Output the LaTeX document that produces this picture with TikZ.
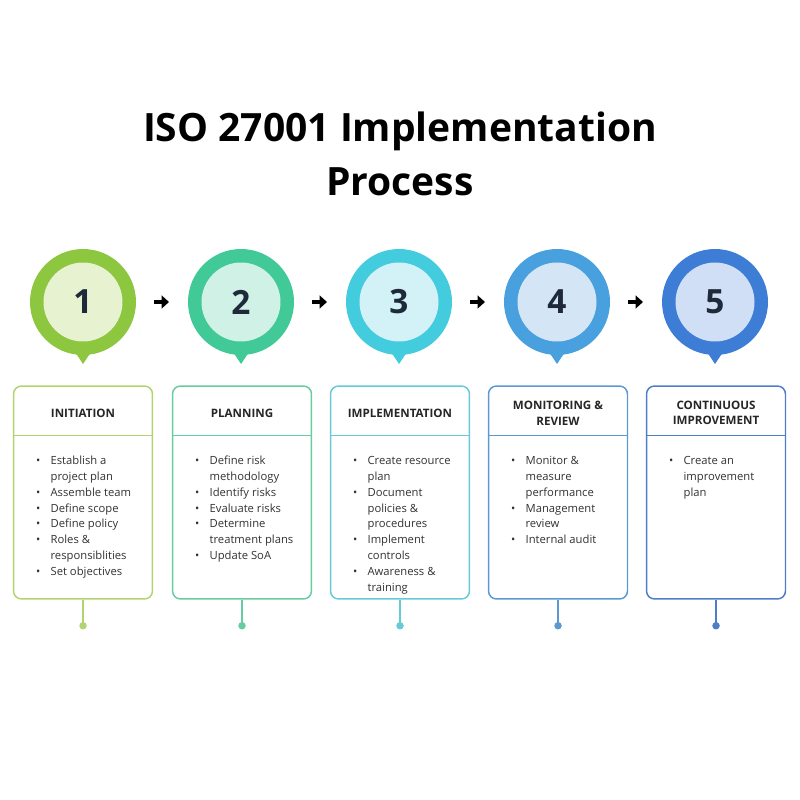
\documentclass[tikz,border=0pt]{standalone}
\usepackage{fontspec}
\setmainfont{Open Sans}
\usepackage{tikz}
\usetikzlibrary{calc}
\usetikzlibrary{arrows.meta}
\usetikzlibrary{positioning}
\definecolor{ringA}{RGB}{141, 198, 63}
\definecolor{ringB}{RGB}{66, 201, 152}
\definecolor{ringC}{RGB}{67, 203, 222}
\definecolor{ringD}{RGB}{73, 160, 222}
\definecolor{ringE}{RGB}{62, 125, 214}
\definecolor{coreA}{RGB}{230, 242, 208}
\definecolor{coreB}{RGB}{208, 242, 230}
\definecolor{coreC}{RGB}{210, 242, 248}
\definecolor{coreD}{RGB}{212, 230, 246}
\definecolor{coreE}{RGB}{208, 223, 245}
\definecolor{edgeA}{RGB}{178, 212, 112}
\definecolor{edgeB}{RGB}{104, 204, 163}
\definecolor{edgeC}{RGB}{104, 202, 216}
\definecolor{edgeD}{RGB}{92, 152, 210}
\definecolor{edgeE}{RGB}{78, 126, 200}
\definecolor{numink}{RGB}{30, 42, 58}
\definecolor{listink}{RGB}{50, 50, 50}
\newcommand{\bul}{\makebox[0.29cm][l]{\textbullet}}
\tikzset{
  ring/.style={circle, fill=#1, minimum size=2.12cm, inner sep=0pt},
  core/.style={circle, fill=#1, minimum size=1.58cm, inner sep=0pt,
               font=\fontsize{19}{19}\selectfont\bfseries, text=numink},
  stepbox/.style={draw=#1, line width=0.85pt, rounded corners=0.16cm,
                  minimum width=2.78cm, minimum height=4.26cm, inner sep=0pt},
  headtext/.style={align=center, font=\fontsize{6.6}{8.6}\selectfont\bfseries, text=black!85},
  listtext/.style={anchor=north west, inner sep=0pt, text=listink,
                   font=\fontsize{6.4}{9}\selectfont},
  stem/.style={draw=#1, line width=0.85pt},
  pindot/.style={circle, fill=#1, minimum size=0.15cm, inner sep=0pt},
  goarrow/.style={line width=2.2pt, -{Triangle[length=0.15cm, width=0.26cm]}}
}
\begin{document}
\begin{tikzpicture}[x=0.02cm, y=-0.02cm]
    \useasboundingbox (0,0) rectangle (800,800);
    % Title
    \node[align=center, font=\fontsize{22.2}{30.7}\selectfont\bfseries] (title) at (400,154)
         {ISO 27001 Implementation\\Process};
    % Markers
    \node[ring=ringA] (c1) at ( 83,302) {};
    \node[ring=ringB] (c2) at (241,302) {};
    \node[ring=ringC] (c3) at (399,302) {};
    \node[ring=ringD] (c4) at (557,302) {};
    \node[ring=ringE] (c5) at (715,302) {};
    \fill[ringA] ($(c1)+(-12,44)$) -- ($(c1)+(12,44)$) -- ($(c1)+(0,62)$) -- cycle;
    \fill[ringB] ($(c2)+(-12,44)$) -- ($(c2)+(12,44)$) -- ($(c2)+(0,62)$) -- cycle;
    \fill[ringC] ($(c3)+(-12,44)$) -- ($(c3)+(12,44)$) -- ($(c3)+(0,62)$) -- cycle;
    \fill[ringD] ($(c4)+(-12,44)$) -- ($(c4)+(12,44)$) -- ($(c4)+(0,62)$) -- cycle;
    \fill[ringE] ($(c5)+(-12,44)$) -- ($(c5)+(12,44)$) -- ($(c5)+(0,62)$) -- cycle;
    \node[core=coreA] (n1) at (c1) {1};
    \node[core=coreB] (n2) at (c2) {2};
    \node[core=coreC] (n3) at (c3) {3};
    \node[core=coreD] (n4) at (c4) {4};
    \node[core=coreE] (n5) at (c5) {5};
    % Arrows between markers
    \draw[goarrow] ($(c1)!0.5!(c2)+(-8,0)$) -- ($(c1)!0.5!(c2)+(7,0)$);
    \draw[goarrow] ($(c2)!0.5!(c3)+(-8,0)$) -- ($(c2)!0.5!(c3)+(7,0)$);
    \draw[goarrow] ($(c3)!0.5!(c4)+(-8,0)$) -- ($(c3)!0.5!(c4)+(7,0)$);
    \draw[goarrow] ($(c4)!0.5!(c5)+(-8,0)$) -- ($(c4)!0.5!(c5)+(7,0)$);
    % Boxes
    \node[stepbox=edgeA] (b1) at ( 83,492.5) {};
    \node[stepbox=edgeB] (b2) at (242,492.5) {};
    \node[stepbox=edgeC] (b3) at (400,492.5) {};
    \node[stepbox=edgeD] (b4) at (558,492.5) {};
    \node[stepbox=edgeE] (b5) at (716,492.5) {};
    \draw[edgeA, line width=0.85pt] ($(b1.north west)+(0,50)$) -- ($(b1.north east)+(0,50)$);
    \draw[edgeB, line width=0.85pt] ($(b2.north west)+(0,50)$) -- ($(b2.north east)+(0,50)$);
    \draw[edgeC, line width=0.85pt] ($(b3.north west)+(0,50)$) -- ($(b3.north east)+(0,50)$);
    \draw[edgeD, line width=0.85pt] ($(b4.north west)+(0,50)$) -- ($(b4.north east)+(0,50)$);
    \draw[edgeE, line width=0.85pt] ($(b5.north west)+(0,50)$) -- ($(b5.north east)+(0,50)$);
    % Headers
    \node[headtext] (h1) at ($(b1.north)+(0,28)$) {INITIATION};
    \node[headtext] (h2) at ($(b2.north)+(0,28)$) {PLANNING};
    \node[headtext] (h3) at ($(b3.north)+(0,28)$) {IMPLEMENTATION};
    \node[headtext] (h4) at ($(b4.north)+(0,28)$) {MONITORING \&\\REVIEW};
    \node[headtext] (h5) at ($(b5.north)+(0,28)$) {CONTINUOUS\\IMPROVEMENT};
    % Lists
    \node[listtext] (l1) at ($(b1.north west)+(23,68)$) {\begin{tabular}{@{}l@{}l@{}}
        \bul & Establish a\\ & project plan\\ \bul & Assemble team\\ \bul & Define scope\\
        \bul & Define policy\\ \bul & Roles \&\\ & responsiblities\\ \bul & Set objectives
        \end{tabular}};
    \node[listtext] (l2) at ($(b2.north west)+(23,68)$) {\begin{tabular}{@{}l@{}l@{}}
        \bul & Define risk\\ & methodology\\ \bul & Identify risks\\ \bul & Evaluate risks\\
        \bul & Determine\\ & treatment plans\\ \bul & Update SoA
        \end{tabular}};
    \node[listtext] (l3) at ($(b3.north west)+(23,68)$) {\begin{tabular}{@{}l@{}l@{}}
        \bul & Create resource\\ & plan\\ \bul & Document\\ & policies \&\\ & procedures\\
        \bul & Implement\\ & controls\\ \bul & Awareness \&\\ & training
        \end{tabular}};
    \node[listtext] (l4) at ($(b4.north west)+(23,68)$) {\begin{tabular}{@{}l@{}l@{}}
        \bul & Monitor \&\\ & measure\\ & performance\\ \bul & Management\\ & review\\
        \bul & Internal audit
        \end{tabular}};
    \node[listtext] (l5) at ($(b5.north west)+(23,68)$) {\begin{tabular}{@{}l@{}l@{}}
        \bul & Create an\\ & improvement\\ & plan
        \end{tabular}};
    % Stems and dots
    \node[pindot=edgeA] (d1) at ($(b1.south)+(0,26)$) {};
    \node[pindot=edgeB] (d2) at ($(b2.south)+(0,26)$) {};
    \node[pindot=edgeC] (d3) at ($(b3.south)+(0,26)$) {};
    \node[pindot=edgeD] (d4) at ($(b4.south)+(0,26)$) {};
    \node[pindot=edgeE] (d5) at ($(b5.south)+(0,26)$) {};
    \draw[stem=edgeA] (b1.south) -- (d1.center);
    \draw[stem=edgeB] (b2.south) -- (d2.center);
    \draw[stem=edgeC] (b3.south) -- (d3.center);
    \draw[stem=edgeD] (b4.south) -- (d4.center);
    \draw[stem=edgeE] (b5.south) -- (d5.center);
\end{tikzpicture}
\end{document}
